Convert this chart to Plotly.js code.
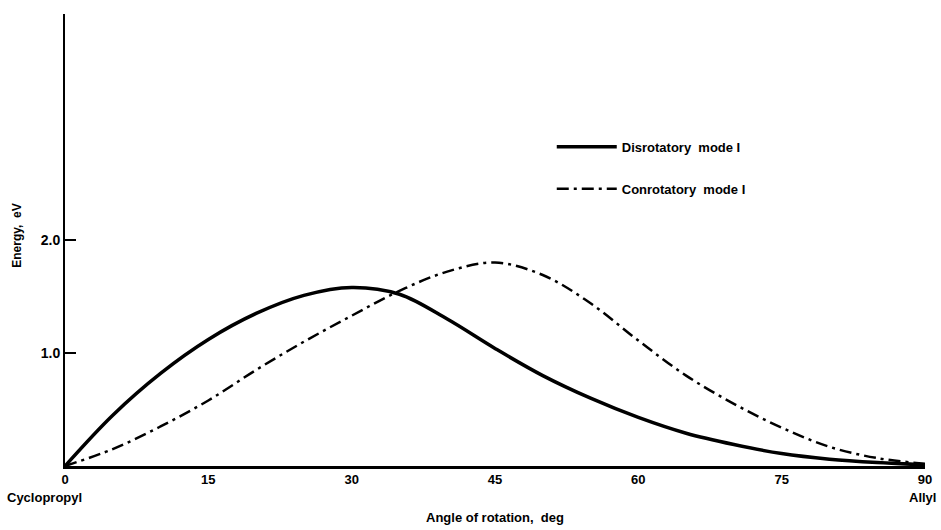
<!DOCTYPE html>
<html>
<head>
<meta charset="utf-8">
<script src="https://cdn.plot.ly/plotly-3.0.1.min.js"></script>
<style>html,body{margin:0;padding:0;background:#fff}#chart{width:941px;height:530px}</style>
</head>
<body>
<div id="chart"></div>
<script>
// Angle of rotation (deg)
const angle = [0,5,10,15,20,25,30,35,40,45,50,55,60,65,70,75,80,85,90];
// Energy, eV
const disrotatory = [0,0.45,0.82,1.12,1.35,1.51,1.58,1.52,1.30,1.04,0.80,0.60,0.43,0.29,0.19,0.11,0.06,0.03,0.01];
const conrotatory = [0,0.15,0.35,0.58,0.85,1.10,1.33,1.55,1.72,1.80,1.69,1.44,1.11,0.80,0.55,0.34,0.17,0.07,0.02];
const xTicks = [0,15,30,45,60,75,90];
const xTickText = ["0","15","30","45","60","75","90"];
const yTicks = [1,2];
const yTickText = ["1.0","2.0"];
const seriesNames = ["Disrotatory  mode I","Conrotatory  mode I"];

const fnt = "Liberation Sans, Arial, sans-serif";
const traces = [
  {x: angle, y: disrotatory, type: "scatter", mode: "lines", name: seriesNames[0],
   line: {color: "#000", width: 3.5, shape: "spline", smoothing: 1}, legend: "legend"},
  {x: angle, y: conrotatory, type: "scatter", mode: "lines", name: seriesNames[1],
   line: {color: "#000", width: 2.5, dash: "12px,5px,3px,5px", shape: "spline", smoothing: 1}, legend: "legend2"}
];
const legendBase = {bgcolor: "rgba(0,0,0,0)", borderwidth: 0, xanchor: "left", yanchor: "middle",
  itemwidth: 60,
  font: {family: fnt, size: 13, color: "#000", weight: "bold"}};
const layout = {
  width: 941, height: 530,
  margin: {l: 65, r: 16, t: 14, b: 64},
  paper_bgcolor: "#fff", plot_bgcolor: "#fff",
  showlegend: true,
  legend: Object.assign({}, legendBase, {x: 0.566, y: 0.706}),
  legend2: Object.assign({}, legendBase, {x: 0.566, y: 0.613}),
  xaxis: {range: [0, 90], tickvals: xTicks, ticktext: xTickText, showgrid: false, zeroline: false,
    showline: true, linecolor: "#000", linewidth: 2.5, ticks: "",
    tickfont: {family: fnt, size: 13, color: "#000", weight: "bold"}},
  yaxis: {range: [0, 4.0], tickvals: yTicks, ticktext: yTickText, showgrid: false, zeroline: false,
    showline: true, linecolor: "#000", linewidth: 2, ticks: "inside", ticklen: 11, tickwidth: 2.5, tickcolor: "#000",
    tickfont: {family: fnt, size: 14, color: "#000", weight: "bold"}},
  annotations: [
    {text: "Energy,  eV", xref: "paper", yref: "paper", x: -0.066, y: 0.51, textangle: -90,
     showarrow: false, font: {family: fnt, size: 12, color: "#000", weight: "bold"}},
    {text: "Angle of rotation,  deg", xref: "paper", yref: "paper", x: 0.5, y: -0.115, yanchor: "middle",
     showarrow: false, font: {family: fnt, size: 13, color: "#000", weight: "bold"}},
    {text: "Cyclopropyl", xref: "paper", yref: "paper", x: -0.07, xanchor: "left", y: -0.07, yanchor: "middle",
     showarrow: false, font: {family: fnt, size: 13, color: "#000", weight: "bold"}},
    {text: "Allyl", xref: "paper", yref: "paper", x: 1.015, xanchor: "right", y: -0.07, yanchor: "middle",
     showarrow: false, font: {family: fnt, size: 13, color: "#000", weight: "bold"}}
  ]
};
Plotly.newPlot("chart", traces, layout, {displayModeBar: false, staticPlot: true});
</script>
</body>
</html>
